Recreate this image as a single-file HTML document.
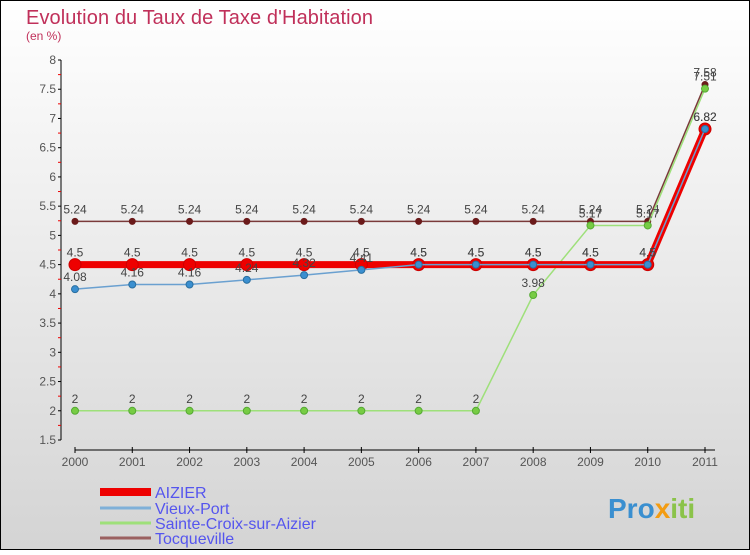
<!DOCTYPE html>
<html><head><meta charset="utf-8"><style>
body{margin:0}
#c{width:750px;height:550px;position:relative;font-family:"Liberation Sans",sans-serif}
</style></head><body>
<div id="c">
<svg id="s" width="750" height="550" xmlns="http://www.w3.org/2000/svg">
<defs><linearGradient id="bg" x1="0" y1="0" x2="0" y2="1"><stop offset="0" stop-color="#ffffff"/><stop offset="1" stop-color="#d4d4d4"/></linearGradient></defs>
<rect x="0.5" y="0.5" width="749" height="549" fill="url(#bg)" stroke="#000"/>
<text x="26" y="24" font-size="20" fill="#c0305a" textLength="347">Evolution du Taux de Taxe d'Habitation</text>
<text x="26" y="40" font-size="12" fill="#c0305a">(en %)</text>
<g id="axes"></g><g id="series"></g><g id="legend"></g>
<text x="608" y="518" font-size="28" font-weight="bold" fill="#3a8fd0">Pro<tspan fill="#f39c12">x</tspan><tspan fill="#8bc34a">iti</tspan></text>
</svg></div>
<script>
const years=["2000","2001","2002","2003","2004","2005","2006","2007","2008","2009","2010","2011"];
const yTicks=[1.5,2,2.5,3,3.5,4,4.5,5,5.5,6,6.5,7,7.5,8];
const aizier=[4.5,4.5,4.5,4.5,4.5,4.5,4.5,4.5,4.5,4.5,4.5,6.82];
const vieuxPort=[4.08,4.16,4.16,4.24,4.32,4.41,4.5,4.5,4.5,4.5,4.5,6.82];
const sainteCroix=[2,2,2,2,2,2,2,2,3.98,5.17,5.17,7.51];
const tocqueville=[5.24,5.24,5.24,5.24,5.24,5.24,5.24,5.24,5.24,5.24,5.24,7.58];
const seriesNames=["AIZIER","Vieux-Port","Sainte-Croix-sur-Aizier","Tocqueville"];
const NS="http://www.w3.org/2000/svg";
const X=i=>75+i*(630/11);
const Y=v=>440-(v-1.5)*(380/6.5);
function mk(p,t,a){const e=document.createElementNS(NS,t);for(const k in a)e.setAttribute(k,a[k]);p.appendChild(e);return e;}
const ax=document.getElementById('axes');
let yl=mk(ax,'line',{x1:61,y1:60,x2:61,y2:440,stroke:'#000'});


yTicks.forEach(v=>{
 mk(ax,'line',{x1:58,y1:Y(v),x2:61,y2:Y(v),stroke:'#000'});
 mk(ax,'line',{x1:58,y1:Y(v+0.25),x2:61,y2:Y(v+0.25),stroke:v<8?'#e00':'none'});
 const t=mk(ax,'text',{x:56,y:Y(v)+4,'font-size':12,fill:'#555','text-anchor':'end'});t.textContent=String(v);
 
 
});
let xl=mk(ax,'line',{x1:75,y1:450,x2:715,y2:450,stroke:'#000'});


years.forEach((y,i)=>{
 mk(ax,'line',{x1:X(i),y1:447,x2:X(i),y2:453,stroke:'#000'});
 const t=mk(ax,'text',{x:X(i),y:466,'font-size':12,fill:'#555','text-anchor':'middle'});t.textContent=y;
 
 
});
const sg=document.getElementById('series');
function draw(vals,name,col,w,mr,mfill,mstroke,msw){
 const g=mk(sg,'g',{});
 
 
 mk(g,'polyline',{points:vals.map((v,i)=>X(i)+','+Y(v)).join(' '),fill:'none',stroke:col,'stroke-width':w});
 vals.forEach((v,i)=>{
  const c=mk(g,'circle',{cx:X(i),cy:Y(v),r:mr,fill:mfill,stroke:mstroke,'stroke-width':msw});
  
  
  const t=mk(g,'text',{x:X(i),y:Y(v)-8,'font-size':12,fill:'#444','text-anchor':'middle'});t.textContent=String(v);
  
  
 });
}
draw(tocqueville,'tocqueville','#7a3a3a',1.5,3.5,'#6b1a1a','#6b1a1a',0);
draw(sainteCroix,'sainte-croix','#9ee07a',1.5,3.5,'#77cc44','#55aa33',1);
draw(aizier,'aizier','#ee0000',7,6,'#ee0000','#cc0000',1);
draw(vieuxPort,'vieux-port','#6aa0d0',1.5,3.5,'#3a8fd0','#2a6fa0',1);
const lg=document.getElementById('legend');
const lc=['#ee0000','#7fb0d8','#9ee07a','#9a6060'],lw=[8,3,3,3],ly=[492,508,523,538];
seriesNames.forEach((n,i)=>{
 const g=mk(lg,'g',{});
 
 
 mk(g,'line',{x1:100,y1:ly[i],x2:151,y2:ly[i],stroke:lc[i],'stroke-width':lw[i]});
 const t=mk(g,'text',{x:155,y:ly[i]+6,'font-size':16,fill:'#5555ee'});t.textContent=n;
});
</script>
</body></html>
